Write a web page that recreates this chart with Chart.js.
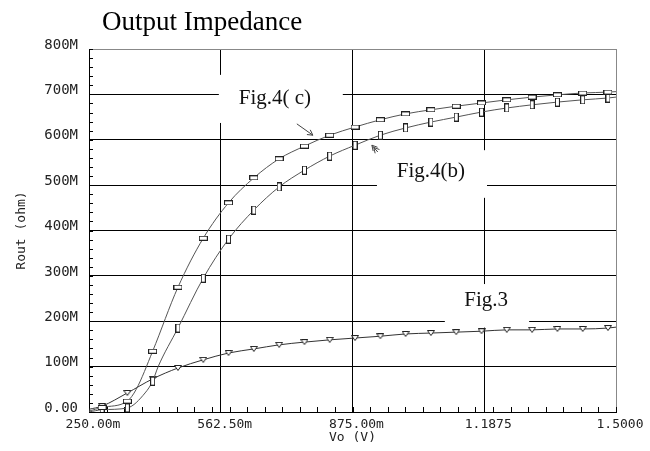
<!DOCTYPE html>
<html><head><meta charset="utf-8">
<script src="https://cdn.jsdelivr.net/npm/chart.js@4.4.0/dist/chart.umd.min.js"></script>
<style>html,body{margin:0;padding:0;background:#fff}canvas{display:block}</style>
</head><body>
<canvas id="c" width="650" height="451"></canvas>
<script>
// ---- data ----
const chartTitle = 'Output Impedance';
const xTickVals = [0.25, 0.5625, 0.875, 1.1875, 1.5];
const xTickLabels = ['250.00m', '562.50m', '875.00m', '1.1875', '1.5000'];
const yTickVals = [0, 100, 200, 300, 400, 500, 600, 700, 800];
const yTickLabels = ['0.00', '100M', '200M', '300M', '400M', '500M', '600M', '700M', '800M'];
const markerVo = [0.281,0.341,0.401,0.461,0.521,0.581,0.641,0.701,0.761,0.821,0.881,0.941,1.001,1.061,1.121,1.181,1.241,1.301,1.361,1.421,1.481];

// Fig.4(c)
const voC   = [0.25,0.281,0.341,0.362,0.401,0.461,0.521,0.581,0.641,0.701,0.761,0.821,0.881,0.941,1.001,1.061,1.121,1.181,1.241,1.301,1.361,1.421,1.481,1.5];
const routC = [2,10,24,50,134,275,383,461,516,558,586,610,628,644,657,666,674,681,688,694,699,703,705,706];
// Fig.4(b)
const voB   = [0.25,0.281,0.341,0.383,0.401,0.414,0.461,0.521,0.581,0.641,0.701,0.761,0.821,0.881,0.941,1.001,1.061,1.121,1.181,1.241,1.301,1.361,1.421,1.481,1.5];
const routB = [0,5,9,42,68,100,185,295,381,445,496,533,564,588,610,626,639,650,661,670,677,683,688,692,694];
// Fig.3
const vo3   = [0.25,0.281,0.341,0.401,0.461,0.521,0.581,0.641,0.701,0.761,0.821,0.881,0.941,1.001,1.061,1.121,1.181,1.241,1.301,1.361,1.421,1.481,1.5];
const rout3 = [6,13,42,73,97,115,130,139,148,154,159,163,167,172,174,176,178,181,181,183,183,185,187];

// annotations: label text, box corners (V, M), text anchor
const notes = [
  {text:'Fig.4( c)', box:[0.558,743,0.852,637], at:[0.691,692]},
  {text:'Fig.4(b)',  box:[0.933,577,1.194,472], at:[1.061,529]},
  {text:'Fig.3',     box:[1.094,282,1.294,186], at:[1.192,245]}
];
const arrows = [
  {from:[0.743,635], to:[0.781,610], dbl:false},
  {from:[0.935,573], to:[0.921,588], dbl:true}
];

// ---- marker images ----
function mk(w,h,draw){const c=document.createElement('canvas');c.width=w;c.height=h;const g=c.getContext('2d');g.strokeStyle='#222';g.fillStyle='#fff';g.lineWidth=1;draw(g);return c;}
const rectH = mk(9,5,g=>{g.fillRect(0,0,9,5);g.strokeRect(0.5,0.5,8,4);});
const rectV = mk(5,9,g=>{g.fillRect(0,0,5,9);g.strokeRect(0.5,0.5,4,8);});
const triD  = mk(8,6,g=>{g.beginPath();g.moveTo(0.5,0.5);g.lineTo(7.5,0.5);g.lineTo(4,5.5);g.closePath();g.fill();g.stroke();});

function series(vo, rout, style, color){
  return {
    data: vo.map((x,i)=>({x, y: rout[i]})),
    showLine: true,
    borderColor: color,
    borderWidth: 1,
    cubicInterpolationMode: 'monotone',
    pointStyle: style,
    pointRadius: ctx => markerVo.includes(vo[ctx.dataIndex]) ? 4 : 0,
    pointBorderWidth: 0,
  };
}

const mono = 'DejaVu Sans Mono';
const extras = {
  id: 'extras',
  beforeDraw(chart){
    const g = chart.ctx; g.save(); g.fillStyle='#fff'; g.fillRect(0,0,chart.width,chart.height); g.restore();
  },
  beforeDatasetsDraw(chart){
    const g = chart.ctx, xs = chart.scales.x, ys = chart.scales.y, a = chart.chartArea;
    g.save();
    // minor ticks
    g.strokeStyle = '#000'; g.lineWidth = 1;
    g.beginPath();
    for (let i=0;i<=30;i++){ const px = Math.round(xs.getPixelForValue(0.25 + i*1.25/30))+0.5; g.moveTo(px, a.bottom); g.lineTo(px, a.bottom-5); }
    for (let v=0; v<=800; v+=20){ const py = Math.round(ys.getPixelForValue(v))+0.5; g.moveTo(a.left, py); g.lineTo(a.left+4, py); }
    g.stroke();
    // annotation boxes and texts
    g.font = '21px "Liberation Serif"'; g.textAlign='center'; g.textBaseline='middle'; 
    for (const n of notes){
      const x1 = xs.getPixelForValue(n.box[0]), y1 = ys.getPixelForValue(n.box[1]);
      const x2 = xs.getPixelForValue(n.box[2]), y2 = ys.getPixelForValue(n.box[3]);
      g.fillStyle = '#fff'; g.fillRect(x1, y1, x2-x1, y2-y1);
      g.fillStyle = '#111'; g.fillText(n.text, xs.getPixelForValue(n.at[0]), ys.getPixelForValue(n.at[1]));
    }
    // arrows
    g.strokeStyle = '#444'; g.lineWidth = 1;
    for (const ar of arrows){
      const x0 = xs.getPixelForValue(ar.from[0]), y0 = ys.getPixelForValue(ar.from[1]);
      const x1 = xs.getPixelForValue(ar.to[0]), y1 = ys.getPixelForValue(ar.to[1]);
      const ang = Math.atan2(y1-y0, x1-x0);
      g.beginPath(); g.moveTo(x0,y0); g.lineTo(x1,y1);
      const heads = ar.dbl ? [0,3] : [0];
      for (const off of heads){
        const hx = x1 - off*Math.cos(ang), hy = y1 - off*Math.sin(ang);
        g.moveTo(hx,hy); g.lineTo(hx-6*Math.cos(ang-0.5), hy-6*Math.sin(ang-0.5));
        g.moveTo(hx,hy); g.lineTo(hx-6*Math.cos(ang+0.5), hy-6*Math.sin(ang+0.5));
      }
      g.stroke();
    }
    g.restore();
  },
  afterDraw(chart){
    const g = chart.ctx; g.save();
    g.fillStyle='#000'; g.font='27px "Liberation Serif"'; g.textAlign='left'; g.textBaseline='alphabetic';
    g.fillText(chartTitle, 102, 30);
    g.restore();
  }
};

new Chart(document.getElementById('c'), {
  type: 'scatter',
  data: { datasets: [
    series(voC, routC, rectH, '#555'),
    series(voB, routB, rectV, '#555'),
    series(vo3, rout3, triD, '#333')
  ]},
  options: {
    responsive: false, animation: false, events: [],
    layout: { padding: { top: 49, right: 34, left: 0, bottom: 0 } },
    plugins: { legend: {display:false}, title: {display:false}, tooltip: {enabled:false} },
    scales: {
      x: {
        type: 'linear', min: 0.25, max: 1.5,
        afterBuildTicks: s => { s.ticks = xTickVals.map(v => ({value: v})); },
        afterFit: s => { s.height = 39; },
        ticks: { callback: (v, i) => xTickLabels[i], autoSkip: false, maxRotation: 0, padding: 5, labelOffset: 4,
                 color: '#222', font: { family: mono, size: 13 } },
        grid: { drawTicks: false, color: ctx => ctx.index === xTickVals.length-1 ? '#888' : '#000', lineWidth: 1 },
        border: { color: '#000' },
        title: { display: true, text: 'Vo (V)', color: '#222', font: { family: mono, size: 13 }, padding: { top: 0, bottom: 6 } }
      },
      y: {
        type: 'linear', min: 0, max: 800,
        afterBuildTicks: s => { s.ticks = yTickVals.map(v => ({value: v})); },
        afterFit: s => { s.width = 89; },
        ticks: { callback: (v, i) => yTickLabels[i], autoSkip: false, padding: 11, labelOffset: -4,
                 color: '#222', font: { family: mono, size: 14 } },
        grid: { drawTicks: false, color: ctx => ctx.index === yTickVals.length-1 ? '#888' : '#000', lineWidth: 1 },
        border: { color: '#000' },
        title: { display: true, text: 'Rout (ohm)', color: '#222', font: { family: mono, size: 13 }, padding: { top: 14, bottom: 0 } }
      }
    }
  },
  plugins: [extras]
});
</script>
</body></html>
